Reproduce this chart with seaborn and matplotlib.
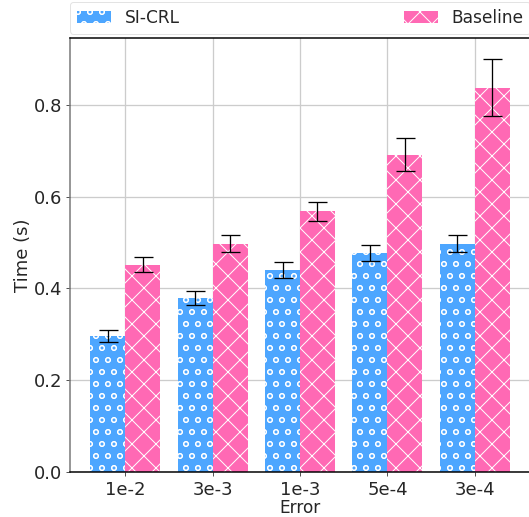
import numpy as np
import pandas as pd
import matplotlib
matplotlib.use("Agg")
import matplotlib.pyplot as plt
import seaborn as sns

# values
errors = ["1e-2", "3e-3", "1e-3", "5e-4", "3e-4"]
methods = ["SI-CRL", "Baseline"]
si_crl_time = [0.296, 0.380, 0.440, 0.478, 0.498]
si_crl_err = [0.013, 0.015, 0.017, 0.017, 0.018]
baseline_time = [0.452, 0.498, 0.568, 0.692, 0.838]
baseline_err = [0.016, 0.018, 0.021, 0.035, 0.062]

df = pd.DataFrame({
    "Error": errors * 2,
    "Method": [methods[0]] * 5 + [methods[1]] * 5,
    "Time": si_crl_time + baseline_time,
    "Std": si_crl_err + baseline_err,
})

sns.set_style("whitegrid")
plt.rcParams["font.family"] = ["DejaVu Sans"]
plt.rcParams["hatch.linewidth"] = 1.0

DPI = 72
fig = plt.figure(figsize=(529 / DPI, 517 / DPI), dpi=DPI)
ax = fig.add_axes([70 / 529, 45 / 517, 460 / 529, 434 / 517])

palette = {"SI-CRL": "#4da6ff", "Baseline": "#ff69b4"}
sns.barplot(data=df, x="Error", y="Time", hue="Method", palette=palette,
            errorbar=None, width=0.8, saturation=1, ax=ax)

hatches = {"SI-CRL": "o", "Baseline": "x"}
handles = []
for container, m in zip(ax.containers, methods):
    sub = df[df["Method"] == m]
    xs = []
    for patch in container:
        patch.set_hatch(hatches[m])
        patch.set_edgecolor("white")
        patch.set_linewidth(0)
        xs.append(patch.get_x() + patch.get_width() / 2)
    handles.append(container.patches[0])
    ax.errorbar(xs, sub["Time"].values, yerr=sub["Std"].values, fmt="none",
                ecolor="black", elinewidth=1.3, capsize=9.5, capthick=1.3, zorder=5)

ax.set_xlim(-0.63, 4.63)
ax.set_ylim(0, 0.946)
ax.set_yticks([0.0, 0.2, 0.4, 0.6, 0.8])
ax.set_xlabel("Error", fontsize=17, labelpad=0)
ax.set_ylabel("Time (s)", fontsize=18, labelpad=2)
ax.tick_params(axis="both", labelsize=18, length=4, width=1, bottom=True, left=True,
               color="#555555")
ax.tick_params(axis="x", pad=5)
ax.grid(True, color="#cccccc", linewidth=1.3)
ax.set_axisbelow(True)
for s in ["top", "bottom"]:
    ax.spines[s].set_color("black")
ax.spines["left"].set_color("#777777")
for s in ax.spines.values():
    s.set_linewidth(1.5)

leg = ax.legend(handles, methods, loc="lower left", bbox_to_anchor=(0, 1.01, 1, 0.07),
                mode="expand", ncol=2, fontsize=17, frameon=True, borderaxespad=0)
leg.get_frame().set_edgecolor("#dddddd")

fig.savefig("out.png", dpi=DPI)
